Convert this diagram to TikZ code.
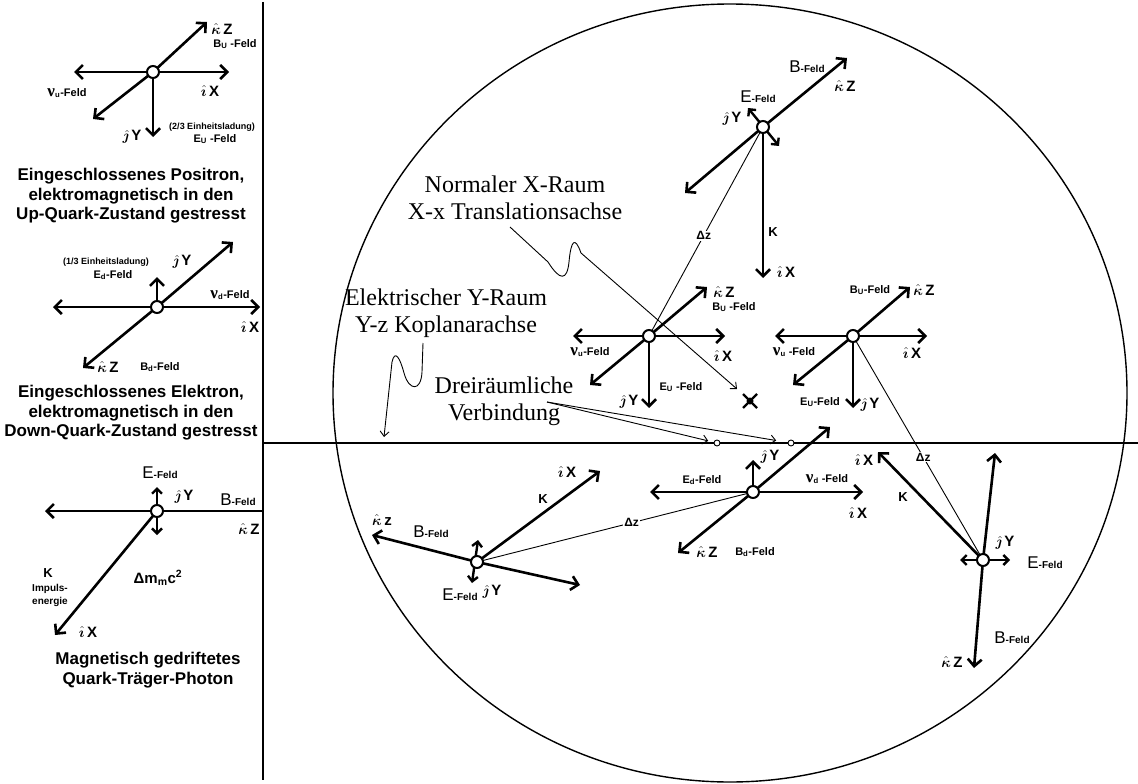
\documentclass[tikz,border=0pt]{standalone}
\usepackage{bm}
\usepackage{fontspec}
\setmainfont{Liberation Sans}
\newfontfamily\tnr{Liberation Serif}
\usetikzlibrary{arrows.meta}
\newcommand\FsFeld{\fontsize{11}{12}\selectfont\bfseries}
\newcommand\SubFeld[2]{{\FsFeld #1\textsubscript{#2}-Feld}}
\newcommand\SubFeldS[2]{{\FsFeld #1\textsubscript{#2} -Feld}}
\newcommand\NuFeld[1]{{\tnr\fontsize{17}{17}\selectfont\bfseries ν}{\FsFeld\textsubscript{#1}-Feld}}
\newcommand\NuFeldS[1]{{\tnr\fontsize{17}{17}\selectfont\bfseries ν}{\FsFeld\textsubscript{#1} -Feld}}
\newcommand\BigFeld[1]{{\fontsize{17}{17}\selectfont #1}{\fontsize{10}{12}\selectfont\bfseries -Feld}}
\newcommand\uvI{{\fontsize{15}{15}\selectfont$\hat{\bm{\imath}}$\,\bfseries X}}
\newcommand\uvJ{{\fontsize{15}{15}\selectfont$\hat{\bm{\jmath}}$\,\bfseries Y}}
\newcommand\uvK{{\fontsize{15}{15}\selectfont$\hat{\bm{\kappa}}$\,\bfseries Z}}
\newcommand\uvKl{{\fontsize{15}{15}\selectfont$\hat{\bm{\kappa}}$\,\bfseries z}}
\newcommand\Kl{{\fontsize{13}{13}\selectfont\bfseries K}}
\begin{document}
\begin{tikzpicture}[x=1pt,y=-1pt,
 ax/.style={line width=2.6pt,-{Straight Barb[length=7pt,width=14pt]}},
 dax/.style={line width=2.4pt,{Straight Barb[length=5pt,width=10pt]}-{Straight Barb[length=5pt,width=10pt]}},
 hub/.style={circle,draw,fill=white,line width=2pt,minimum size=12pt,inner sep=0pt},
 thinl/.style={line width=0.9pt},
 thinarr/.style={line width=0.9pt,-{Straight Barb[length=5pt,width=9pt]}},
 lab/.style={inner sep=0pt},
 serifbox/.style={font=\tnr\fontsize{24}{27}\selectfont,align=center,inner sep=0pt},
 captxt/.style={font=\fontsize{17}{19.5}\selectfont\bfseries,align=center,inner sep=0pt},
 dz/.style={fill=white,inner sep=1pt,font=\fontsize{12}{12}\selectfont\bfseries},
 smallc/.style={circle,draw,fill=white,line width=0.9pt,minimum size=6pt,inner sep=0pt},
 tinytxt/.style={font=\fontsize{9}{10}\selectfont\bfseries,inner sep=0pt}
]
\useasboundingbox (0,0) rectangle (1138,784);
\fill[white] (0,0) rectangle (1138,784);

% frame lines
\draw[line width=1.4pt] (730,393) ellipse [x radius=397pt, y radius=389pt];
\draw[line width=1.2pt] (263,2) -- (263,780);
\draw[line width=1.1pt] (263,443) -- (1138,443);

% ---------- left panel 1: positron / up quark
\coordinate (P1) at (153,72);
\draw[ax] (P1) -- (74,72);
\draw[ax] (P1) -- (229,72);
\draw[ax] (P1) -- (207,22);
\draw[ax] (P1) -- (93,119);
\draw[ax] (P1) -- (153,137);
\node[hub] (p1) at (P1) {};
\node[lab] at (222,29) {\uvK};
\node[lab] at (235,44) {\SubFeldS{B}{U}};
\node[lab] at (67,93) {\NuFeld{u}};
\node[lab] at (210,91) {\uvI};
\node[lab] at (132,137) {\uvJ};
\node[tinytxt] at (212,127) {(2/3 Einheitsladung)};
\node[lab] at (215,139) {\SubFeldS{E}{U}};
\node[captxt] (cap1) at (131,196) {Eingeschlossenes Positron,\\elektromagnetisch in den\\Up-Quark-Zustand gestresst};

% ---------- left panel 2: electron / down quark
\coordinate (P2) at (157,307);
\draw[ax] (P2) -- (53,307);
\draw[ax] (P2) -- (260,307);
\draw[ax] (P2) -- (157,277);
\draw[ax] (P2) -- (233,242);
\draw[ax] (P2) -- (83,368);
\node[hub] (p2) at (P2) {};
\node[tinytxt] at (106,262) {(1/3 Einheitsladung)};
\node[lab] at (113,275) {\SubFeld{E}{d}};
\node[lab] at (182,262) {\uvJ};
\node[lab] at (230,295) {\NuFeld{d}};
\node[lab] at (250,327) {\uvI};
\node[lab] at (108,367) {\uvK};
\node[lab] at (160,367) {\SubFeld{B}{d}};
\node[captxt] (cap2) at (131,413) {Eingeschlossenes Elektron,\\elektromagnetisch in den\\Down-Quark-Zustand gestresst};

% ---------- left panel 3: photon
\coordinate (P3) at (157,511);
\draw[ax] (P3) -- (45,511);
\draw[line width=2.6pt] (P3) -- (262,511);
\draw[dax] (157,487) -- (157,535);
\draw[ax] (P3) -- (55,635);
\node[hub] (p3) at (P3) {};
\node[lab] at (160,473) {\BigFeld{E}};
\node[lab] at (184,497) {\uvJ};
\node[lab] at (238,500) {\BigFeld{B}};
\node[lab] at (249,529) {\uvK};
\node[lab] at (48,573) {\Kl};
\node[lab,align=center,font=\fontsize{10}{13}\selectfont\bfseries] at (50,595) {Impuls-\\energie};
\node[lab] at (158,578) {{\fontsize{15}{15}\selectfont\bfseries Δm\textsubscript{m}c\textsuperscript{2}}};
\node[lab] at (88,632) {\uvI};
\node[captxt] (cap3) at (148,670) {Magnetisch gedriftetes\\Quark-Träger-Photon};

% ---------- right: hubs
\coordinate (A) at (763,127);
\coordinate (B) at (649,336);
\coordinate (C) at (853,336);
\coordinate (D) at (983,560);
\coordinate (E) at (753,492);
\coordinate (F) at (477,562);

\draw[thinl] (A) -- node[dz,pos=0.52] {Δz} (B);
\draw[thinl] (C) -- node[dz,pos=0.54] {Δz} (D);
\draw[thinl] (E) -- node[dz,pos=0.44] {Δz} (F);

% A (top photon)
\draw[ax] (A) -- (847,58);
\draw[ax] (A) -- (685,193);
\draw[ax] (A) -- (763,278);
\draw[dax] (748,108) -- (779,146);
\node[hub] (a) at (A) {};
\node[lab] at (807,67) {\BigFeld{B}};
\node[lab] at (845,86) {\uvK};
\node[lab] at (758,97) {\BigFeld{E}};
\node[lab] at (732,119) {\uvJ};
\node[lab] at (773,232) {\Kl};
\node[lab] at (786,272) {\uvI};

% B (up quark left)
\draw[ax] (B) -- (573,336);
\draw[ax] (B) -- (725,336);
\draw[ax] (B) -- (707,287);
\draw[ax] (B) -- (590,385);
\draw[ax] (B) -- (649,408);
\node[hub] (b) at (B) {};
\node[lab] at (724,292) {\uvK};
\node[lab] at (734,307) {\SubFeldS{B}{U}};
\node[lab] at (590,352) {\NuFeld{u}};
\node[lab] at (723,356) {\uvI};
\node[lab] at (681,387) {\SubFeldS{E}{U}};
\node[lab] at (629,402) {\uvJ};

% C (up quark right)
\draw[ax] (C) -- (775,336);
\draw[ax] (C) -- (927,336);
\draw[ax] (C) -- (910,287);
\draw[ax] (C) -- (793,385);
\draw[ax] (C) -- (853,408);
\node[hub] (c) at (C) {};
\node[lab] at (870,290) {\SubFeld{B}{U}};
\node[lab] at (924,290) {\uvK};
\node[lab] at (794,352) {\NuFeldS{u}};
\node[lab] at (912,353) {\uvI};
\node[lab] at (820,402) {\SubFeld{E}{U}};
\node[lab] at (870,405) {\uvJ};

% D (right photon)
\draw[ax] (D) -- (995,453);
\draw[ax] (D) -- (974,668);
\draw[dax] (960,560) -- (1010,560);
\draw[ax] (D) -- (878,452);
\node[hub] (d) at (D) {};
\node[lab] at (864,460) {\uvI};
\node[lab] at (903,497) {\Kl};
\node[lab] at (1005,543) {\uvJ};
\node[lab] at (1045,563) {\BigFeld{E}};
\node[lab] at (1012,638) {\BigFeld{B}};
\node[lab] at (952,662) {\uvK};

% E (down quark)
\draw[ax] (E) -- (650,492);
\draw[ax] (E) -- (863,492);
\draw[ax] (E) -- (753,460);
\draw[ax] (E) -- (830,427);
\draw[ax] (E) -- (678,553);
\node[hub] (e) at (E) {};
\node[lab] at (770,457) {\uvJ};
\node[lab] at (702,480) {\SubFeld{E}{d}};
\node[lab] at (827,479) {\NuFeldS{d}};
\node[lab] at (858,513) {\uvI};
\node[lab] at (707,552) {\uvK};
\node[lab] at (755,552) {\SubFeld{B}{d}};

% F (lower-left photon)
\draw[ax] (F) -- (600,471);
\draw[ax] (F) -- (372,535);
\draw[ax] (F) -- (580,585);
\draw[dax] (478,540) -- (472,583);
\node[hub] (f) at (F) {};
\node[lab] at (382,520) {\uvKl};
\node[lab] at (431,532) {\BigFeld{B}};
\node[lab] at (460,595) {\BigFeld{E}};
\node[lab] at (492,592) {\uvJ};
\node[lab] at (543,499) {\Kl};
\node[lab] at (567,472) {\uvI};

% serif labels and pointers
\node[serifbox] (xr) at (515,198) {Normaler X-Raum\\X-x Translationsachse};
\node[serifbox] (yr) at (446,313) {Elektrischer Y-Raum\\Y-z Koplanarachse};
\node[serifbox] (dv) at (504,401) {Dreiräumliche\\Verbindung};

\node[circle,fill=black,minimum size=7pt,inner sep=0pt] (mk) at (750,401) {};
\draw[line width=2.2pt] (743,394) -- (757,408) (743,408) -- (757,394);

\coordinate (xs) at (510,227);
\draw[thinarr] (xs) -- (548,262) .. controls (560,281) and (567,281) .. (569,262) .. controls (571,240) and (575,236) .. (581,253) -- (737,389);

\coordinate (ys) at (423,343);
\coordinate (yt) at (384,437);
\draw[thinarr] (ys) -- (422,372) .. controls (421,392) and (409,391) .. (404,373) .. controls (400,358) and (395,349) .. (392,362) -- (yt);

\node[smallc] (c1) at (717,443) {};
\node[smallc] (c2) at (791,443) {};
\coordinate (ds) at (547,402);
\draw[thinarr,shorten >=9pt] (ds) -- (c1.center);
\draw[thinarr,shorten >=15pt] (ds) -- (c2.center);
\end{tikzpicture}
\end{document}
